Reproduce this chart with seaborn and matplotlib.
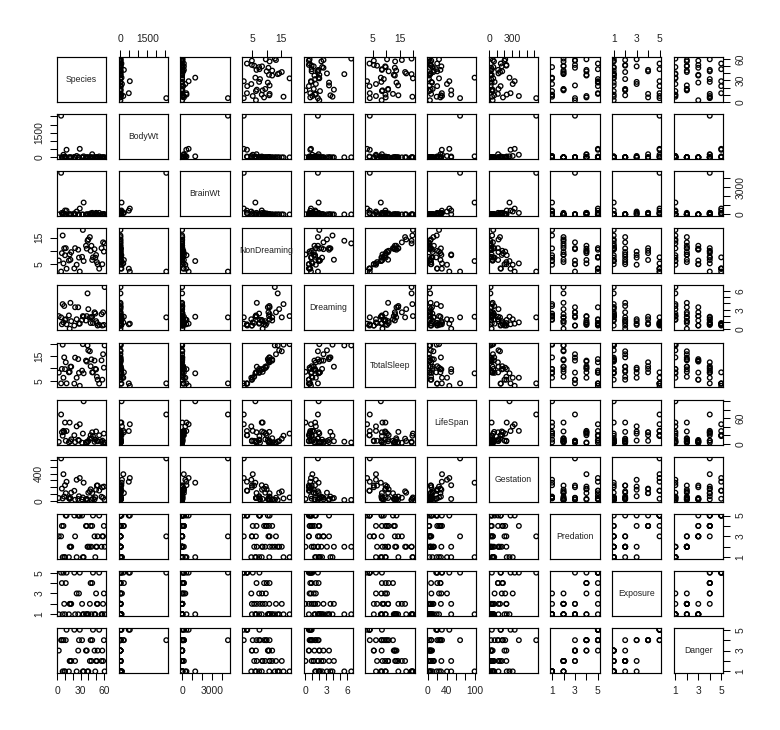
import numpy as np
import pandas as pd
import matplotlib
matplotlib.use("Agg")
import matplotlib.pyplot as plt
import seaborn as sns

# mammal sleep data, complete cases only (species code = row in full table)
species = [2, 5, 6, 7, 8, 9, 10, 11, 12, 15, 16, 17, 18, 22, 23, 25, 27, 28, 29, 32, 33,
           34, 37, 38, 39, 40, 42, 43, 44, 45, 46, 48, 49, 50, 51, 52, 54, 57, 58, 59, 60, 61]
body_wt = [1.0, 2547.0, 10.55, 0.023, 160.0, 3.3, 52.16, 0.425, 465.0, 0.075, 3.0, 0.785,
           0.2, 27.66, 0.12, 85.0, 0.101, 1.04, 521.0, 0.005, 0.01, 62.0, 0.023, 0.048,
           1.7, 3.5, 0.48, 10.0, 1.62, 192.0, 2.5, 0.28, 4.235, 6.8, 0.75, 3.6, 55.5, 0.9,
           2.0, 0.104, 4.19, 3.5]
brain_wt = [6.6, 4603.0, 179.5, 0.3, 169.0, 25.6, 440.0, 6.4, 423.0, 1.2, 25.0, 3.5, 5.0,
            115.0, 1.0, 325.0, 4.0, 5.5, 655.0, 0.14, 0.25, 1320.0, 0.4, 0.33, 6.3, 10.8,
            15.5, 115.0, 11.4, 180.0, 12.1, 1.9, 50.4, 179.0, 12.3, 21.0, 175.0, 2.6, 12.3,
            2.5, 58.0, 3.9]
non_dreaming = [6.3, 2.1, 9.1, 15.8, 5.2, 10.9, 8.3, 11.0, 3.2, 6.3, 8.6, 6.6, 9.5, 3.3,
                11.0, 4.7, 10.4, 7.4, 2.1, 7.7, 17.9, 6.1, 11.9, 10.8, 13.8, 14.3, 15.2,
                10.0, 11.9, 6.5, 7.5, 10.6, 7.4, 8.4, 5.7, 4.9, 3.2, 11.0, 4.9, 13.2, 9.7, 12.8]
dreaming = [2.0, 1.8, 0.7, 3.9, 1.0, 3.6, 1.4, 1.5, 0.7, 2.1, 0.0, 4.1, 1.2, 0.5, 3.4, 1.5,
            3.4, 0.8, 0.8, 1.4, 2.0, 1.9, 1.3, 2.0, 5.6, 3.1, 1.8, 0.9, 1.8, 1.9, 0.9, 2.6,
            2.4, 1.2, 0.9, 0.5, 0.6, 2.3, 0.5, 2.6, 0.6, 6.6]
total_sleep = [8.3, 3.9, 9.8, 19.7, 6.2, 14.5, 9.7, 12.5, 3.9, 8.4, 8.6, 10.7, 10.7, 3.8,
               14.4, 6.2, 13.8, 8.2, 2.9, 9.1, 19.9, 8.0, 13.2, 12.8, 19.4, 17.4, 17.0,
               10.9, 13.7, 8.4, 8.4, 13.2, 9.8, 9.6, 6.6, 5.4, 3.8, 13.3, 5.4, 15.8, 10.3, 19.4]
life_span = [4.5, 69.0, 27.0, 19.0, 30.4, 28.0, 50.0, 7.0, 30.0, 3.5, 50.0, 6.0, 10.4, 20.0,
             3.9, 41.0, 9.0, 7.6, 46.0, 2.6, 24.0, 100.0, 3.2, 2.0, 5.0, 6.5, 12.0, 20.2,
             13.0, 27.0, 18.0, 4.7, 9.8, 29.0, 7.0, 6.0, 20.0, 4.5, 7.5, 2.3, 24.0, 3.0]
gestation = [42, 624, 180, 35, 392, 63, 230, 112, 281, 42, 28, 42, 120, 148, 16, 310, 28, 68,
             336, 21.5, 50, 267, 19, 30, 12, 120, 140, 170, 17, 115, 31, 21, 52, 164, 225,
             225, 151, 60, 200, 46, 210, 14]
predation = [3, 3, 4, 1, 4, 1, 1, 5, 5, 1, 2, 2, 2, 5, 3, 1, 5, 5, 5, 5, 1, 1, 4, 4, 2, 2, 2,
             4, 2, 4, 5, 3, 1, 2, 2, 3, 5, 2, 3, 3, 4, 2]
exposure = [1, 5, 4, 1, 5, 2, 1, 4, 5, 1, 2, 2, 2, 5, 1, 3, 1, 3, 5, 2, 1, 1, 1, 1, 1, 1, 2,
            4, 1, 4, 5, 1, 1, 3, 2, 2, 5, 1, 1, 2, 3, 1]
danger = [3, 4, 4, 1, 4, 1, 1, 4, 5, 1, 2, 2, 2, 5, 2, 1, 3, 4, 5, 4, 1, 1, 3, 3, 1, 1, 2, 4,
          2, 4, 5, 3, 1, 2, 2, 3, 5, 2, 3, 2, 4, 1]

var_names = ["Species", "BodyWt", "BrainWt", "NonDreaming", "Dreaming", "TotalSleep",
             "LifeSpan", "Gestation", "Predation", "Exposure", "Danger"]

# axis ticks and the labels R kept on the horizontal / vertical axes
ticks = {
    "Species": [0, 10, 20, 30, 40, 50, 60],
    "BodyWt": [0, 500, 1000, 1500, 2000, 2500],
    "BrainWt": [0, 1000, 2000, 3000, 4000],
    "NonDreaming": [5, 10, 15],
    "Dreaming": [0, 1, 2, 3, 4, 5, 6],
    "TotalSleep": [5, 10, 15, 20],
    "LifeSpan": [0, 20, 40, 60, 80, 100],
    "Gestation": [0, 100, 200, 300, 400, 500, 600],
    "Predation": [1, 2, 3, 4, 5],
    "Exposure": [1, 2, 3, 4, 5],
    "Danger": [1, 2, 3, 4, 5],
}
x_labels = {
    "Species": [0, 30, 60], "BodyWt": [0, 1500], "BrainWt": [0, 3000],
    "NonDreaming": [5, 15], "Dreaming": [0, 3, 6], "TotalSleep": [5, 15],
    "LifeSpan": [0, 40, 100], "Gestation": [0, 300], "Predation": [1, 3, 5],
    "Exposure": [1, 3, 5], "Danger": [1, 3, 5],
}
y_labels = {
    "Species": [0, 30, 60], "BodyWt": [0, 1500], "BrainWt": [0, 3000],
    "NonDreaming": [5, 15], "Dreaming": [0, 3, 6], "TotalSleep": [5, 15],
    "LifeSpan": [0, 60], "Gestation": [0, 400], "Predation": [1, 3, 5],
    "Exposure": [1, 3, 5], "Danger": [1, 3, 5],
}

df = pd.DataFrame({
    "Species": species, "BodyWt": body_wt, "BrainWt": brain_wt,
    "NonDreaming": non_dreaming, "Dreaming": dreaming, "TotalSleep": total_sleep,
    "LifeSpan": life_span, "Gestation": gestation, "Predation": predation,
    "Exposure": exposure, "Danger": danger,
})

sns.set_style("white")
plt.rcParams["font.family"] = ["Liberation Sans", "DejaVu Sans"]

n = len(var_names)
fig, axes = plt.subplots(n, n, figsize=(7.8, 7.3), dpi=100)
fig.subplots_adjust(left=0.073, right=0.927, bottom=0.078, top=0.922,
                    wspace=0.245, hspace=0.27)


def lims(v):
    # R pads the data range by 4% on each side
    lo, hi = df[v].min(), df[v].max()
    r = hi - lo
    return lo - 0.04 * r, hi + 0.04 * r


def fmt(vals, shown):
    return [str(t) if t in shown else "" for t in vals]


for i, yv in enumerate(var_names):
    for j, xv in enumerate(var_names):
        ax = axes[i, j]
        if i == j:
            ax.text(0.5, 0.5, yv, transform=ax.transAxes, ha="center", va="center",
                    fontsize=6.2, color="#222222")
        else:
            sns.scatterplot(data=df, x=xv, y=yv, ax=ax, marker="o", s=11,
                            facecolors="none", edgecolor="black", linewidth=0.95,
                            legend=False)
        ax.set_xlim(lims(xv))
        ax.set_ylim(lims(yv))
        ax.set_xlabel("")
        ax.set_ylabel("")
        for sp in ax.spines.values():
            sp.set_visible(True)
            sp.set_color("black")
            sp.set_linewidth(0.85)

        ax.tick_params(axis="both", which="both", direction="out", length=4.8,
                       width=0.75, pad=4.3, labelsize=7.4, colors="black",
                       labelcolor="#222222",
                       bottom=False, top=False, left=False, right=False,
                       labelbottom=False, labeltop=False, labelleft=False,
                       labelright=False)

        if i == 0 and j % 2 == 1:
            ax.set_xticks(ticks[xv])
            ax.set_xticklabels(fmt(ticks[xv], x_labels[xv]))
            ax.tick_params(axis="x", top=True, labeltop=True)
        elif i == n - 1 and j % 2 == 0:
            ax.set_xticks(ticks[xv])
            ax.set_xticklabels(fmt(ticks[xv], x_labels[xv]))
            ax.tick_params(axis="x", bottom=True, labelbottom=True)
        else:
            ax.set_xticks([])

        if j == 0 and i % 2 == 1:
            ax.set_yticks(ticks[yv])
            ax.set_yticklabels(fmt(ticks[yv], y_labels[yv]), rotation=90, va="center")
            ax.tick_params(axis="y", left=True, labelleft=True)
        elif j == n - 1 and i % 2 == 0:
            ax.set_yticks(ticks[yv])
            ax.set_yticklabels(fmt(ticks[yv], y_labels[yv]), rotation=90, va="center")
            ax.tick_params(axis="y", right=True, labelright=True)
        else:
            ax.set_yticks([])

plt.savefig("out.png", dpi=100)
